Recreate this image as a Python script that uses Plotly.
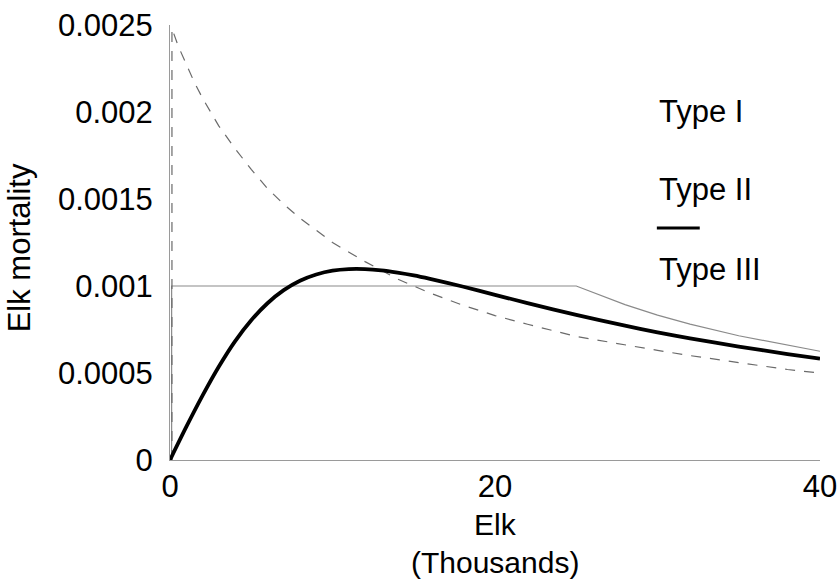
import plotly.graph_objects as go

# ---- data ----
x_ticks = [0, 20, 40]
x_tick_labels = ["0", "20", "40"]
y_ticks = [0, 0.0005, 0.001, 0.0015, 0.002, 0.0025]
y_tick_labels = ["0", "0.0005", "0.001", "0.0015", "0.002", "0.0025"]

# Type I (thin grey solid)
type1_elk = [0.1, 0.1, 25, 28, 30, 32, 35, 38, 40]
type1_mort = [0, 0.001, 0.001, 0.000893, 0.000833, 0.000781, 0.000714, 0.000658, 0.000625]

# Type II (grey dashed)
type2_elk = [0.12, 0.12, 0.5, 1, 1.5, 2, 3, 4, 5, 6, 7, 8, 9, 10, 12, 14, 16, 18, 20,
             22, 25, 28, 30, 32, 35, 38, 40]
type2_mort = [0, 0.00248, 0.00238, 0.00227, 0.00217, 0.00208, 0.00192, 0.00179, 0.00167,
              0.00156, 0.00147, 0.00139, 0.00132, 0.00125, 0.00114, 0.00104, 0.00096,
              0.00089, 0.00083, 0.00078, 0.00071, 0.00066, 0.00063, 0.00060, 0.00056,
              0.00052, 0.00050]

# Type III (thick black)
type3_elk = [0, 1, 2, 3, 4, 5, 6, 7, 8, 9, 10, 11, 12, 13, 14, 15, 16, 18, 20, 22, 25,
             28, 30, 32, 35, 38, 40]
type3_mort = [0, 0.00019, 0.00037, 0.000536, 0.000682, 0.000803, 0.000901, 0.000976,
              0.00103, 0.001066, 0.001088, 0.001097, 0.001097, 0.00109, 0.001077, 0.001061,
              0.001041, 0.000997, 0.000949, 0.000902, 0.000834, 0.000772, 0.000734,
              0.000699, 0.000652, 0.000609, 0.000583]

legend_labels = ["Type I", "Type II", "Type III"]

FONT = "Liberation Sans, Arial, sans-serif"
FS = 31

fig = go.Figure()
fig.add_trace(go.Scatter(x=type1_elk, y=type1_mort, mode="lines",
                         line=dict(color="#8a8a8a", width=1.2), name=legend_labels[0],
                         showlegend=False, cliponaxis=False))
fig.add_trace(go.Scatter(x=type2_elk, y=type2_mort, mode="lines",
                         line=dict(color="#6a6a6a", width=1.2, dash="10px,9px"),
                         name=legend_labels[1], showlegend=False, cliponaxis=False))
fig.add_trace(go.Scatter(x=type3_elk, y=type3_mort, mode="lines",
                         line=dict(color="black", width=3.8, shape="spline", smoothing=0.8),
                         name=legend_labels[2], showlegend=False, cliponaxis=False))

annotations = []
# axis titles
annotations.append(dict(text="Elk", x=0.5, y=-0.149, xref="paper", yref="paper",
                        showarrow=False, font=dict(family=FONT, size=30, color="black"),
                        xanchor="center", yanchor="middle", borderpad=0))
annotations.append(dict(text="(Thousands)", x=0.5, y=-0.2345, xref="paper", yref="paper",
                        showarrow=False, font=dict(family=FONT, size=30, color="black"),
                        xanchor="center", yanchor="middle", borderpad=0))
annotations.append(dict(text="Elk mortality", x=-0.232, y=0.487, xref="paper", yref="paper",
                        showarrow=False, textangle=-90,
                        font=dict(family=FONT, size=FS, color="black"),
                        xanchor="center", yanchor="middle"))
# legend texts
for lab, yy in zip(legend_labels, [0.80, 0.6207, 0.4368]):
    annotations.append(dict(text=lab, x=0.749, y=yy, xref="paper", yref="paper",
                            showarrow=False, font=dict(family=FONT, size=FS, color="black"),
                            xanchor="left", yanchor="middle"))

fig.update_layout(
    width=838, height=581,
    margin=dict(l=170, r=18, t=25, b=121),
    paper_bgcolor="white", plot_bgcolor="white",
    font=dict(family=FONT, size=FS, color="black"),
    annotations=annotations,
    shapes=[dict(type="line", xref="paper", yref="paper", x0=0.749, x1=0.815,
                 y0=0.5333, y1=0.5333, line=dict(color="black", width=3))],
    xaxis=dict(range=[0, 40], tickvals=x_ticks, ticktext=x_tick_labels,
               showgrid=False, zeroline=False, showline=True, linecolor="#9a9a9a",
               linewidth=1, ticks="", ticklabelstandoff=-1, automargin=False,
               tickfont=dict(family=FONT, size=FS, color="black")),
    yaxis=dict(range=[0, 0.0025], tickvals=y_ticks, ticktext=y_tick_labels,
               showgrid=False, zeroline=False, showline=True, linecolor="#9a9a9a",
               linewidth=1, ticks="", ticklabelstandoff=10, automargin=False,
               tickfont=dict(family=FONT, size=FS, color="black")),
)

fig.write_html("out.html", config={"displayModeBar": False},
               post_script="document.body.style.margin='0';document.body.style.overflow='hidden';")
